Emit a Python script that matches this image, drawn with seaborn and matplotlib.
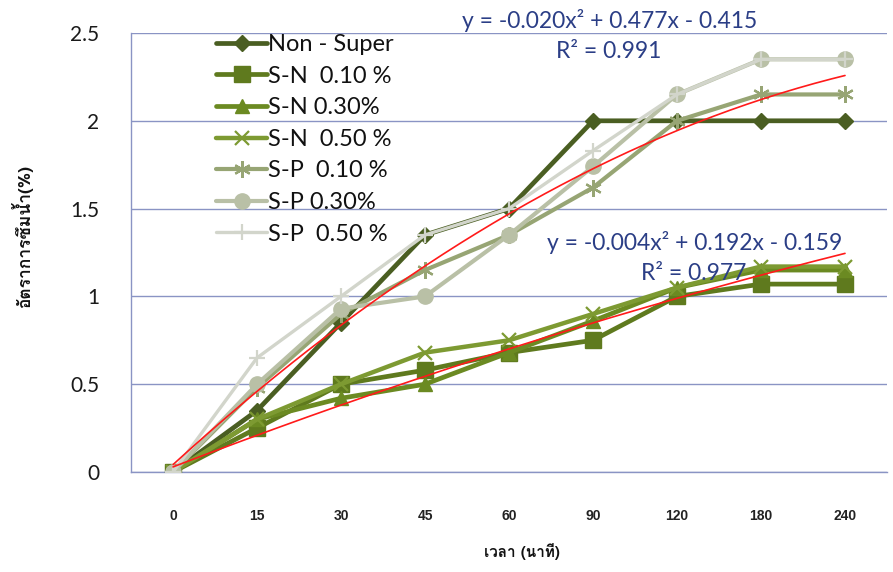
import numpy as np
import pandas as pd
import matplotlib
matplotlib.use("Agg")
import matplotlib.pyplot as plt
import seaborn as sns
from matplotlib import font_manager
from matplotlib.ft2font import FT2Font

# ---------------- data ----------------
times = ["0", "15", "30", "45", "60", "90", "120", "180", "240"]
series_names = ["Non - Super", "S-N  0.10 %", "S-N 0.30%", "S-N  0.50 %",
                "S-P  0.10 %", "S-P 0.30%", "S-P  0.50 %"]
non_super = [0, 0.35, 0.85, 1.35, 1.50, 2.00, 2.00, 2.00, 2.00]
sn_010 = [0, 0.25, 0.50, 0.58, 0.68, 0.75, 1.00, 1.07, 1.07]
sn_030 = [0, 0.30, 0.42, 0.50, 0.68, 0.86, 1.05, 1.15, 1.15]
sn_050 = [0, 0.30, 0.50, 0.68, 0.75, 0.90, 1.05, 1.17, 1.17]
sp_010 = [0, 0.48, 0.90, 1.15, 1.35, 1.62, 2.00, 2.15, 2.15]
sp_030 = [0, 0.50, 0.93, 1.00, 1.35, 1.74, 2.15, 2.35, 2.35]
sp_050 = [0, 0.65, 1.00, 1.35, 1.50, 1.83, 2.15, 2.35, 2.35]
# trendline equations shown on the chart (x = 1..9)
trend_upper = [-0.020, 0.477, -0.415]
trend_lower = [-0.004, 0.192, -0.159]
eq_upper = ["y = -0.020x² + 0.477x - 0.415", "R² = 0.991"]
eq_lower = ["y = -0.004x² + 0.192x - 0.159", "R² = 0.977"]
y_label = "อัตราการซึมน้ำ(%)"
x_label = "เวลา (นาที)"

values = [non_super, sn_010, sn_030, sn_050, sp_010, sp_030, sp_050]

# ---------------- style ----------------
colors = ["#4A5E22", "#5F7A1E", "#6B8A22", "#7D9A32", "#97A574", "#B9C0A6", "#D2D5CB"]
markers = ["D", "s", "^", "x", (6, 2, 0), "o", "+"]
msizes = [8, 11, 10, 10, 12, 11, 12]
lwidths = [3.4, 3.4, 3.4, 3.2, 3.0, 3.0, 2.4]

sns.set_theme(style="white")


def find_thai_font():
    for f in font_manager.fontManager.ttflist:
        try:
            cm = FT2Font(f.fname).get_charmap()
            if 0x0E27 in cm and 0x0E32 in cm:
                return f.name
        except Exception:
            pass
    return None


thai = find_thai_font()
thai_family = [thai, "DejaVu Sans"] if thai else ["DejaVu Sans"]
plt.rcParams["font.family"] = ["Lato", "DejaVu Sans"]

fig = plt.figure(figsize=(8.93, 5.72), dpi=100)
fig.patch.set_facecolor("white")
ax = fig.add_axes([131 / 893, 1 - 472 / 572, (887 - 131) / 893, (472 - 33) / 572])

pos = np.arange(len(times))
rows = []
for name, vals in zip(series_names, values):
    for p, v in zip(pos, vals):
        rows.append({"pos": p, "val": v, "series": name})
df = pd.DataFrame(rows)

handles = []
for i, name in enumerate(series_names):
    sub = df[df["series"] == name]
    thin_marker = markers[i] in ("x", "+") or isinstance(markers[i], tuple)
    sns.lineplot(data=sub, x="pos", y="val", ax=ax, color=colors[i],
                 marker=markers[i], markersize=msizes[i], linewidth=lwidths[i],
                 markeredgecolor=colors[i], markeredgewidth=1.6 if thin_marker else 1,
                 legend=False, zorder=3 + i * 0.1)
    handles.append(ax.lines[-1])

# trendlines (polynomial, Excel x = 1..n)
xs = np.linspace(0, len(times) - 1, 200)
for c in (trend_upper, trend_lower):
    ax.plot(xs, np.polyval(c, xs + 1), color="#FF1A1A", linewidth=1.2, zorder=6)

ax.set_ylim(0, 2.5)
ax.set_xlim(-0.49, 8.16)
ax.set_yticks([0, 0.5, 1, 1.5, 2, 2.5])
ax.set_yticklabels(["0", "0.5", "1", "1.5", "2", "2.5"], fontsize=15, color="#1a1a1a")
ax.set_xticks(pos)
ax.set_xticklabels(times, fontsize=10, fontweight="bold", family="Liberation Sans", color="#222222")
ax.set_xticks(np.arange(-0.5, 8.6, 1), minor=True)
ax.tick_params(axis="x", which="major", length=0, pad=27)
ax.tick_params(axis="x", which="minor", length=5, color="#8A94C4", direction="out", width=1)
ax.tick_params(axis="y", which="major", length=5, color="#8A94C4", direction="out", width=1, pad=18)
ax.grid(axis="y", color="#8A94C4", linewidth=1)
ax.set_axisbelow(True)
for s in ("top", "right"):
    ax.spines[s].set_visible(False)
for s in ("left", "bottom"):
    ax.spines[s].set_color("#8A94C4")
    ax.spines[s].set_linewidth(1)
ax.set_xlabel("")
ax.set_ylabel("")

leg = ax.legend(handles, series_names, loc="upper left", bbox_to_anchor=(0.094, 1.03),
                frameon=False, fontsize=17, handlelength=2.15, handletextpad=0.05,
                labelspacing=0.45, borderaxespad=0.2)
for t in leg.get_texts():
    t.set_color("#111111")

eq_color = "#2B3E86"
fig.text(610 / 893, 1 - 20 / 572, eq_upper[0], ha="center", va="center", fontsize=16.5, color=eq_color)
fig.text(609 / 893, 1 - 52 / 572, eq_upper[1], ha="center", va="center", fontsize=16.5, color=eq_color)
fig.text(695 / 893, 1 - 243 / 572, eq_lower[0], ha="center", va="center", fontsize=16.5, color=eq_color)
fig.text(694 / 893, 1 - 273 / 572, eq_lower[1], ha="center", va="center", fontsize=16.5, color=eq_color)

fig.text(522 / 893, 1 - 552 / 572, x_label, ha="center", va="center", fontsize=11,
         fontweight="bold", family=thai_family, color="#111111")
fig.text(22 / 893, 1 - 236 / 572, y_label, ha="center", va="center", fontsize=12.5,
         fontweight="bold", rotation=90, family=thai_family, color="#111111")

fig.savefig("out.png", dpi=100, facecolor="white")
